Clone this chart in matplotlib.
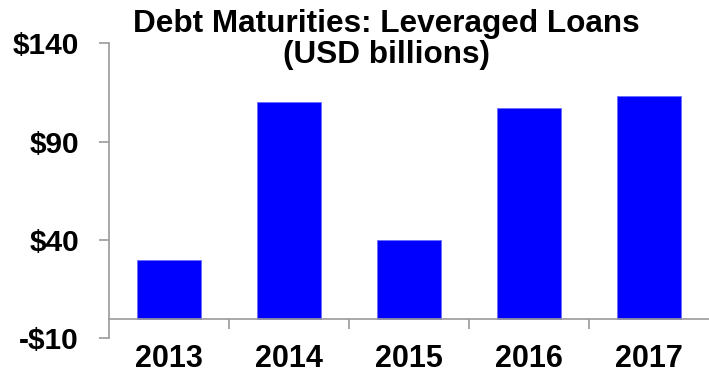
import numpy as np
import matplotlib.pyplot as plt

# Leveraged loan maturities by year (USD billions)
years = ["2013", "2014", "2015", "2016", "2017"]
maturities = [30, 110, 40, 107, 113]
y_ticks = [-10, 40, 90, 140]
y_tick_labels = ["-$10", "$40", "$90", "$140"]

plt.rcParams['font.family'] = ['Liberation Sans', 'DejaVu Sans']
plt.rcParams['font.weight'] = 'bold'

fig = plt.figure(figsize=(7.09, 3.72), dpi=100)
ax = fig.add_axes([0.1537, 0.0906, 0.8463, 0.7934])

x = np.arange(len(years))
ax.bar(x, maturities, width=0.53, color="#0000ff", edgecolor="#6b6bff", linewidth=0.6, zorder=2)

ax.set_xlim(-0.5, len(years) - 0.5)
ax.set_ylim(-10, 140)

axis_grey = "#9a9a9a"
for side in ["top", "right"]:
    ax.spines[side].set_visible(False)
ax.spines["left"].set_color(axis_grey)
ax.spines["left"].set_linewidth(1.2)
ax.spines["bottom"].set_position(("data", 0))
ax.spines["bottom"].set_color(axis_grey)
ax.spines["bottom"].set_linewidth(1.2)

ax.set_yticks(y_ticks)
ax.set_yticklabels(y_tick_labels, fontsize=21.5, fontweight="bold")
ax.tick_params(axis="y", direction="out", length=7.5, width=1.2, color=axis_grey, pad=14)

# category labels sit below the -10 line, tick marks between categories
ax.set_xticks(x)
ax.set_xticklabels(years, fontsize=22, fontweight="bold")
ax.tick_params(axis="x", which="major", length=0, pad=18.5)
ax.set_xticks(x[:-1] + 0.5, minor=True)
ax.tick_params(axis="x", which="minor", direction="out", length=7, width=1.2, color=axis_grey)

fig.text(0.545, 0.9148, "Debt Maturities: Leveraged Loans",
         ha="center", va="baseline", fontsize=22.7, fontweight="bold")
fig.text(0.545, 0.8306, "(USD billions)",
         ha="center", va="baseline", fontsize=22.7, fontweight="bold")

fig.savefig("out.png", dpi=100)
